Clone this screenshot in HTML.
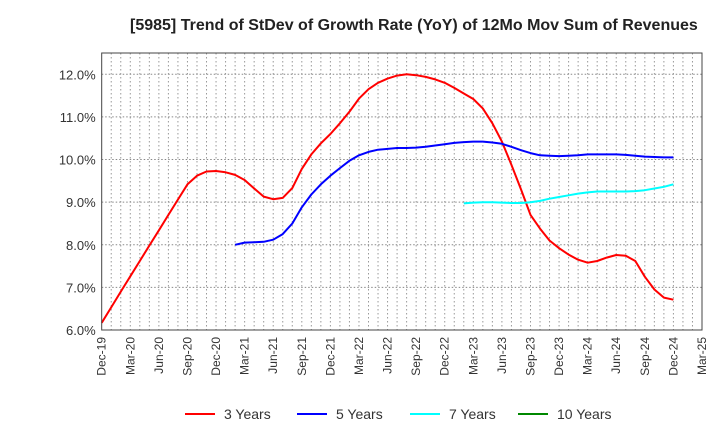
<!DOCTYPE html>
<html><head><meta charset="utf-8"><style>body{margin:0;background:#fff}svg{display:block;font-family:"Liberation Sans",sans-serif}</style></head>
<body>
<svg id="chart" width="720" height="440" viewBox="0 0 720 440">
<text x="130" y="30" font-size="16" font-weight="bold" fill="#222">[5985]  Trend of StDev of Growth Rate (YoY) of 12Mo Mov Sum of Revenues</text>
<g id="grid"></g>
<g id="series"></g>
<rect x="101.7" y="53" width="600.3" height="277" fill="none" stroke="#444" stroke-width="1"/>
<g id="axes"></g>
<g font-size="14" fill="#333">
<g><line x1="185" y1="414" x2="215" y2="414" stroke="#f00" stroke-width="2"/><text x="224" y="419">3 Years</text></g>
<g><line x1="297" y1="414" x2="327" y2="414" stroke="#00f" stroke-width="2"/><text x="336" y="419">5 Years</text></g>
<g><line x1="410" y1="414" x2="440" y2="414" stroke="#0ff" stroke-width="2"/><text x="449" y="419">7 Years</text></g>
<g><line x1="518" y1="414" x2="548" y2="414" stroke="#080" stroke-width="2"/><text x="557" y="419">10 Years</text></g>
</g>
</svg>
<script>
const xLabels=["Dec-19","Mar-20","Jun-20","Sep-20","Dec-20","Mar-21","Jun-21","Sep-21","Dec-21","Mar-22","Jun-22","Sep-22","Dec-22","Mar-23","Jun-23","Sep-23","Dec-23","Mar-24","Jun-24","Sep-24","Dec-24","Mar-25"];
const yTicks=[6,7,8,9,10,11,12];
const y3=[6.17,6.53,6.9,7.26,7.62,7.98,8.34,8.7,9.06,9.42,9.62,9.72,9.73,9.7,9.64,9.52,9.32,9.13,9.07,9.1,9.33,9.78,10.12,10.38,10.6,10.85,11.12,11.43,11.65,11.8,11.9,11.97,12.0,11.98,11.94,11.88,11.8,11.68,11.55,11.42,11.2,10.85,10.42,9.88,9.3,8.7,8.38,8.1,7.92,7.77,7.65,7.58,7.62,7.7,7.76,7.74,7.62,7.25,6.95,6.76,6.71];
const y5Start=14;
const y5=[8.0,8.05,8.06,8.07,8.12,8.25,8.5,8.88,9.18,9.42,9.62,9.8,9.97,10.1,10.18,10.23,10.25,10.27,10.27,10.28,10.3,10.33,10.36,10.39,10.41,10.42,10.42,10.4,10.37,10.3,10.22,10.15,10.1,10.09,10.08,10.09,10.1,10.12,10.12,10.12,10.12,10.11,10.09,10.07,10.06,10.05,10.05];
const y7Start=38;
const y7=[8.97,8.99,9.0,9.0,8.99,8.98,8.98,9.0,9.03,9.08,9.12,9.16,9.2,9.23,9.25,9.25,9.25,9.25,9.26,9.28,9.32,9.36,9.42];
const y10Start=0;
const y10=[];
const NS="http://www.w3.org/2000/svg";
const L=101.7,R=702,T=53,B=330,NM=63,ymin=6,ymax=12.5;
const xs=i=>L+(R-L)*i/NM;
const ys=v=>B-(B-T)*(v-ymin)/(ymax-ymin);
function mk(t,a,p){const e=document.createElementNS(NS,t);for(const k in a)e.setAttribute(k,a[k]);p.appendChild(e);return e;}
const grid=document.getElementById('grid'),axes=document.getElementById('axes'),ser=document.getElementById('series');
for(let i=1;i<NM;i++){const l=mk('line',{x1:xs(i),x2:xs(i),y1:T,y2:B,stroke:'#999','stroke-dasharray':'1.5,2.5','stroke-width':1},grid);

}
yTicks.forEach(v=>{const l=mk('line',{x1:L,x2:R,y1:ys(v),y2:ys(v),stroke:'#888','stroke-dasharray':'1.5,2','stroke-width':1},grid);


const t=mk('text',{x:L-6,y:ys(v)+5,'text-anchor':'end','font-size':13,fill:'#333'},axes);t.textContent=v.toFixed(1)+'%';

});
xLabels.forEach((s,i)=>{const x=xs(i*3);const t=mk('text',{x:0,y:0,transform:`translate(${x+4},337) rotate(-90)`,'text-anchor':'end','font-size':12,fill:'#333'},axes);t.textContent=s;

});
function line(arr,start,color,name){if(!arr.length)return;const d=arr.map((v,i)=>(i?'L':'M')+xs(start+i).toFixed(1)+','+ys(v).toFixed(1)).join('');
const p=mk('path',{d:d,fill:'none',stroke:color,'stroke-width':2,'stroke-linejoin':'round'},ser);

}
line(y3,0,'#f00','line-3-years');
line(y5,y5Start,'#00f','line-5-years');
line(y7,y7Start,'#0ff','line-7-years');
line(y10,y10Start,'#080','line-10-years');
</script>
</body></html>
